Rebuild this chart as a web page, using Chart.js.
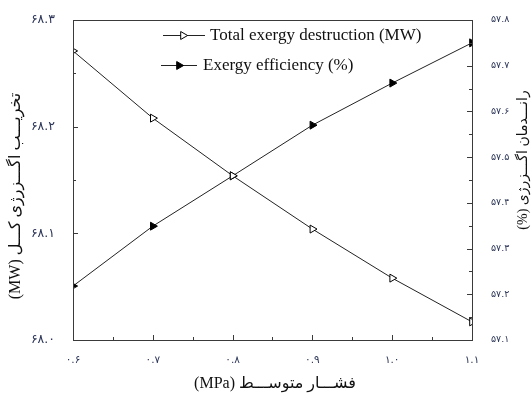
<!DOCTYPE html>
<html>
<head>
<meta charset="utf-8">
<script src="https://cdn.jsdelivr.net/npm/chart.js@4.4.1/dist/chart.umd.min.js"></script>
<style>
  html, body { margin: 0; padding: 0; background: #fff; }
  #wrap { width: 532px; height: 401px; position: relative; }
</style>
</head>
<body>
<div id="wrap"><canvas id="c" width="532" height="401"></canvas></div>
<script>
// Mean pressure (MPa)
const pressure = [0.6, 0.7, 0.8, 0.9, 1.0, 1.1];
// Total exergy destruction (MW)
const exergyDestruction = [68.271, 68.208, 68.154, 68.104, 68.058, 68.017];
// Exergy efficiency (%)
const exergyEfficiency = [57.218, 57.349, 57.459, 57.570, 57.662, 57.750];

const seriesNames = ['Total exergy destruction (MW)', 'Exergy efficiency (%)'];
const xTitle = 'فشـــار متوســـط (MPa)';
const yLeftTitle = 'تخریـــب اگـــزرژی کـــل (MW)';
const yRightTitle = 'رانـــدمان اگـــزرژی (%)';

const faDigits = '۰۱۲۳۴۵۶۷۸۹';
function toFa(v, d) {
  return Number(v).toFixed(d).replace(/[0-9]/g, c => faDigits[+c]);
}

const INK = '#222';
const AXIS = '#3a3a3a';
const LABEL = '#2b3557';

// Inward major/minor ticks, plot frame, rotated titles and legend
const decor = {
  id: 'decor',
  afterDraw(chart) {
    const { ctx, chartArea: a, scales } = chart;
    ctx.save();
    ctx.strokeStyle = AXIS;
    ctx.lineWidth = 1;
    ctx.strokeRect(Math.round(a.left) + 0.5, Math.round(a.top) + 0.5,
                   Math.round(a.right - a.left), Math.round(a.bottom - a.top));

    function tickSet(min, max, step) {
      const out = [];
      const n = Math.round((max - min) / step);
      for (let i = 0; i <= n; i++) out.push({ v: min + i * step, major: i % 2 === 0 });
      return out;
    }
    ctx.beginPath();
    tickSet(0.6, 1.1, 0.05).forEach(t => {
      const x = Math.round(scales.x.getPixelForValue(t.v)) + 0.5;
      const len = t.major ? 5 : 3;
      ctx.moveTo(x, a.bottom); ctx.lineTo(x, a.bottom - len);
    });
    tickSet(68.0, 68.3, 0.05).forEach(t => {
      const y = Math.round(scales.y.getPixelForValue(t.v)) + 0.5;
      const len = t.major ? 5 : 3;
      ctx.moveTo(a.left, y); ctx.lineTo(a.left + len, y);
    });
    tickSet(57.1, 57.8, 0.05).forEach(t => {
      const y = Math.round(scales.y1.getPixelForValue(t.v)) + 0.5;
      const len = t.major ? 5 : 3;
      ctx.moveTo(a.right, y); ctx.lineTo(a.right - len, y);
    });
    ctx.stroke();

    // axis titles (right-to-left text)
    ctx.save();
    ctx.direction = 'rtl';
    ctx.fillStyle = '#111';
    ctx.textAlign = 'center';
    ctx.textBaseline = 'middle';
    ctx.font = "16px 'Liberation Serif', 'DejaVu Sans', serif";
    ctx.fillText(xTitle, 275, 384);

    ctx.save();
    ctx.translate(16, 196);
    ctx.rotate(-Math.PI / 2);
    ctx.fillText(yLeftTitle, 0, 0);
    ctx.restore();

    ctx.save();
    ctx.font = "14px 'Liberation Serif', 'DejaVu Sans', serif";
    ctx.translate(523, 160);
    ctx.rotate(-Math.PI / 2);
    ctx.fillText(yRightTitle, 0, 0);
    ctx.restore();
    ctx.restore();

    // legend
    function tri(x, y, r, filled) {
      ctx.beginPath();
      ctx.moveTo(x + r, y);
      ctx.lineTo(x - r / 2, y - r * Math.sqrt(3) / 2);
      ctx.lineTo(x - r / 2, y + r * Math.sqrt(3) / 2);
      ctx.closePath();
      ctx.fillStyle = filled ? '#000' : '#fff';
      ctx.fill();
      ctx.strokeStyle = '#000';
      ctx.stroke();
    }
    const rows = [
      { y: 35, x0: 163, x1: 205, mx: 183, tx: 210, filled: false, text: seriesNames[0] },
      { y: 65, x0: 161, x1: 197, mx: 179, tx: 203, filled: true, text: seriesNames[1] }
    ];
    rows.forEach(r => {
      ctx.strokeStyle = INK;
      ctx.lineWidth = 1;
      ctx.beginPath();
      ctx.moveTo(r.x0, r.y + 0.5); ctx.lineTo(r.x1, r.y + 0.5);
      ctx.stroke();
      tri(r.mx, r.y + 0.5, 4.6, r.filled);
      ctx.fillStyle = '#111';
      ctx.textAlign = 'left';
      ctx.textBaseline = 'middle';
      ctx.font = "17px 'Liberation Serif', serif";
      ctx.fillText(r.text, r.tx, r.y + 1);
    });
    ctx.restore();
  }
};

new Chart(document.getElementById('c'), {
  type: 'line',
  data: {
    datasets: [
      {
        label: seriesNames[0],
        data: pressure.map((p, i) => ({ x: p, y: exergyDestruction[i] })),
        yAxisID: 'y',
        borderColor: INK,
        borderWidth: 1,
        pointStyle: 'triangle',
        rotation: 90,
        pointRadius: 4.6,
        pointBackgroundColor: '#fff',
        pointBorderColor: '#000',
        pointBorderWidth: 1,
        tension: 0
      },
      {
        label: seriesNames[1],
        data: pressure.map((p, i) => ({ x: p, y: exergyEfficiency[i] })),
        yAxisID: 'y1',
        borderColor: INK,
        borderWidth: 1,
        pointStyle: 'triangle',
        rotation: 90,
        pointRadius: 4.6,
        pointBackgroundColor: '#000',
        pointBorderColor: '#000',
        pointBorderWidth: 1,
        tension: 0
      }
    ]
  },
  options: {
    responsive: false,
    animation: false,
    layout: { padding: { top: 20, left: 0, right: 0, bottom: 0 } },
    plugins: { legend: { display: false }, tooltip: { enabled: false } },
    scales: {
      x: {
        type: 'linear', position: 'bottom', min: 0.6, max: 1.1,
        grid: { display: false }, border: { display: false },
        afterBuildTicks: s => { s.ticks = pressure.map(v => ({ value: v })); },
        ticks: {
          padding: 6, color: LABEL, maxRotation: 0,
          font: { family: "'DejaVu Sans'", size: 10.5 },
          callback: v => toFa(v, 1)
        },
        afterFit: s => { s.height = 61; }
      },
      y: {
        type: 'linear', position: 'left', min: 68.0, max: 68.3,
        grid: { display: false }, border: { display: false },
        afterBuildTicks: s => { s.ticks = [68.0, 68.1, 68.2, 68.3].map(v => ({ value: v })); },
        ticks: {
          padding: 10, color: LABEL,
          font: { family: "'DejaVu Sans'", size: 12.5 },
          callback: v => toFa(v, 1)
        },
        afterFit: s => { s.width = 73; }
      },
      y1: {
        type: 'linear', position: 'right', min: 57.1, max: 57.8,
        grid: { display: false }, border: { display: false },
        afterBuildTicks: s => { s.ticks = [57.1, 57.2, 57.3, 57.4, 57.5, 57.6, 57.7, 57.8].map(v => ({ value: v })); },
        ticks: {
          padding: 11, color: LABEL,
          font: { family: "'DejaVu Sans'", size: 9.5 },
          callback: v => toFa(v, 1)
        },
        afterFit: s => { s.width = 60; }
      }
    }
  },
  plugins: [decor]
});
</script>
</body>
</html>
